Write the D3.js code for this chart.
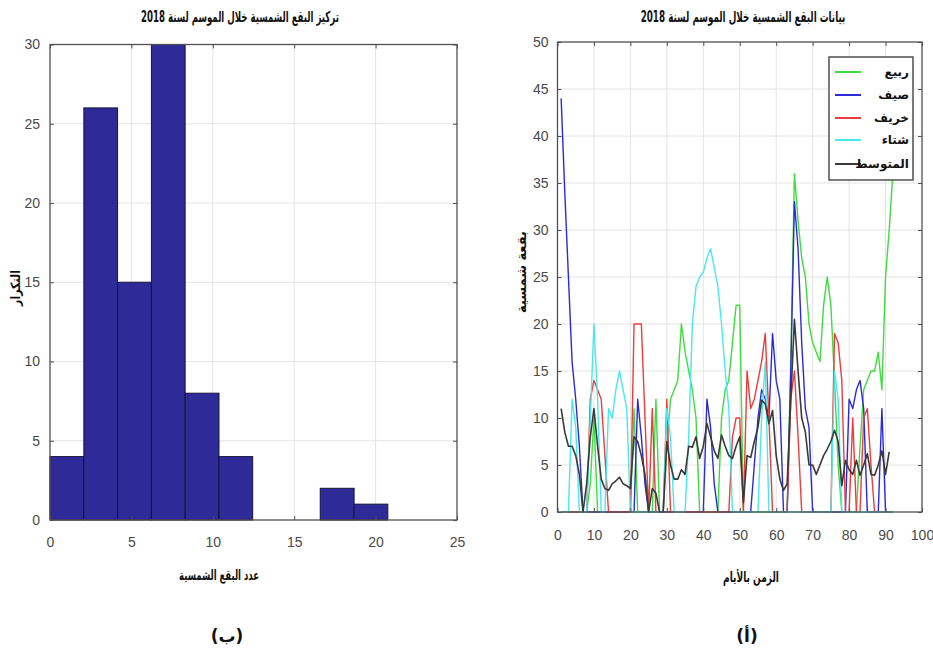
<!DOCTYPE html>
<html>
<head>
<meta charset="utf-8">
<script src="https://cdn.jsdelivr.net/npm/d3@7"></script>
<style>
  body { margin: 0; background: #fff; }
  .tick text { font-family: "Liberation Sans Narrow", "Liberation Sans", Arial, sans-serif; }
  .ar { font-family: "DejaVu Sans", sans-serif; font-weight: bold; fill: #111; }
</style>
</head>
<body>
<svg id="chart" width="933" height="654"></svg>
<script>
// histogram (b): bin edges and counts
const histEdges = [0, 2.08, 4.15, 6.23, 8.3, 10.38, 12.45, 14.53, 16.6, 18.68, 20.75];
const histCounts = [4, 26, 15, 30, 8, 4, 0, 0, 2, 1];
const histXTicks = [0, 5, 10, 15, 20, 25];
const histYTicks = [0, 5, 10, 15, 20, 25, 30];

// line chart (a): daily sunspot counts, day 1 onwards
const springSpots = [0, 0, 0, 0, 0, 0, 0, 0, 3, 10, 0, 0, 0, 0, 0, 0, 0, 0, 0, 0,
  11, 0, 0, 0, 0, 0, 12, 0, 0, 7, 12, 13, 14, 20, 17, 15, 13, 10, 0, 0,
  0, 0, 0, 0, 10, 13, 14, 18, 22, 22, 0, 0, 0, 0, 0, 0, 0, 0, 0, 0,
  0, 0, 0, 16, 36, 31, 27, 25, 20, 18, 17, 16, 22, 25, 22, 14, 5, 0, 0, 0,
  0, 0, 7, 13, 14, 15, 15, 17, 13, 25, 30, 36];
const summerSpots = [44, 34, 25, 16, 12, 7, 0, 0, 0, 0, 0, 0, 0, 0, 0, 0, 0, 0, 0, 0,
  0, 12, 8, 3, 0, 0, 0, 0, 0, 0, 0, 0, 0, 0, 0, 0, 0, 0, 0, 0,
  12, 9, 3, 0, 0, 0, 0, 0, 0, 0, 0, 0, 0, 5, 10, 13, 12, 10, 19, 14,
  12, 0, 0, 15, 33, 28, 18, 11, 9, 0, 0, 0, 0, 0, 0, 0, 0, 0, 0, 12,
  11, 13, 14, 11, 0, 0, 0, 0, 11, 0, 0, 0];
const autumnSpots = [0, 0, 0, 0, 0, 0, 0, 0, 12, 14, 13, 12, 6, 0, 0, 0, 0, 0, 0, 0,
  20, 20, 20, 10, 0, 11, 0, 0, 0, 12, 0, 0, 0, 0, 0, 0, 0, 0, 0, 0,
  0, 0, 0, 0, 0, 0, 0, 8, 10, 10, 0, 15, 11, 12, 14, 16, 19, 10, 0, 0,
  0, 0, 0, 12, 15, 8, 0, 0, 0, 0, 0, 0, 0, 0, 0, 19, 18, 14, 0, 0,
  10, 0, 0, 10, 11, 5, 0, 0, 0, 0, 0, 0];
const winterSpots = [0, 0, 0, 12, 9, 0, 0, 0, 10, 20, 12, 0, 0, 11, 10, 13, 15, 13, 11, 0,
  0, 0, 0, 0, 0, 0, 0, 0, 0, 11, 8, 0, 0, 0, 0, 8, 20, 24, 25, 25.5,
  27, 28, 26, 24, 20, 15, 11, 0, 0, 0, 0, 0, 0, 0, 0, 10, 16, 0, 0, 0,
  0, 0, 0, 0, 0, 0, 0, 0, 0, 0, 0, 0, 0, 0, 0, 15, 12, 0, 0, 0,
  0, 0, 0, 0, 0, 0, 0, 0, 0, 0, 0, 0];
const averageSpots = [11, 8.5, 7, 7, 6, 4, 0, 3, 8, 11, 7, 3.5, 2.5, 2.3, 3, 3.3, 3.7, 3, 2.8, 2.5,
  8, 7.5, 6, 4, 0, 2.5, 2, 0, 0, 7.5, 5, 3.5, 3.5, 4.5, 4, 7, 6.9, 8, 5.7, 7,
  9.4, 8, 6.5, 5.7, 8.2, 7, 6, 5.7, 7, 8, 1, 6, 5.8, 7.5, 9, 11.9, 11.5, 9.4, 10.8, 6,
  3.5, 2.3, 3, 12, 20.5, 15, 10, 8.5, 5, 5, 4, 5, 6, 6.7, 7.5, 8.7, 7.5, 2.8, 5.5, 4.5,
  4, 5.5, 3.9, 5, 6.2, 4, 3.9, 5, 6.5, 4, 6.4];

const seasonNames = ['ربيع', 'صيف', 'خريف', 'شتاء', 'المتوسط'];
const seasonColors = ['#3fdc3f', '#2b2bd6', '#ee3b3b', '#4ae8ee', '#3a3a3a'];
const dayTicks = [0, 10, 20, 30, 40, 50, 60, 70, 80, 90, 100];
const spotTicks = [0, 5, 10, 15, 20, 25, 30, 35, 40, 45, 50];

const svg = d3.select('#chart');
svg.append('rect').attr('width', 933).attr('height', 654).attr('fill', '#fff');

const gridColor = '#e4e4e4';
const frameColor = '#505050';
const labelColor = '#4a4a4a';

function drawGrid(g, x, y, xTicks, yTicks) {
  const [x0, x1] = x.range();
  const [y0, y1] = y.range();

  g.append('g')
    .selectAll('line')
    .data(xTicks.slice(1, -1))
    .join('line')
    .attr('x1', (d) => x(d)).attr('x2', (d) => x(d))
    .attr('y1', y0).attr('y2', y1)
    .attr('stroke', gridColor);

  g.append('g')
    .selectAll('line')
    .data(yTicks.slice(1, -1))
    .join('line')
    .attr('x1', x0).attr('x2', x1)
    .attr('y1', (d) => y(d)).attr('y2', (d) => y(d))
    .attr('stroke', gridColor);
}

function drawAxes(g, x, y, xTicks, yTicks, xPad, yPad) {
  const [x0, x1] = x.range();
  const [y0, y1] = y.range();

  const bottom = g.append('g').attr('transform', `translate(0,${y0})`)
    .call(d3.axisBottom(x).tickValues(xTicks).tickSizeInner(-4).tickSizeOuter(0).tickPadding(xPad));
  const top = g.append('g').attr('transform', `translate(0,${y1})`)
    .call(d3.axisTop(x).tickValues(xTicks).tickSizeInner(-4).tickSizeOuter(0).tickFormat(''));
  const left = g.append('g').attr('transform', `translate(${x0},0)`)
    .call(d3.axisLeft(y).tickValues(yTicks).tickSizeInner(-4).tickSizeOuter(0).tickPadding(yPad));
  const right = g.append('g').attr('transform', `translate(${x1},0)`)
    .call(d3.axisRight(y).tickValues(yTicks).tickSizeInner(-4).tickSizeOuter(0).tickFormat(''));

  [bottom, top, left, right].forEach((a) => {
    a.select('.domain').remove();
    a.selectAll('.tick line').attr('stroke', frameColor);
    a.selectAll('.tick text').attr('fill', labelColor).style('font-size', '14px');
  });

  g.append('rect')
    .attr('x', x0).attr('y', y1)
    .attr('width', x1 - x0).attr('height', y0 - y1)
    .attr('fill', 'none')
    .attr('stroke', frameColor)
    .attr('stroke-width', 1.3);
}

// squeeze the Arabic text horizontally to the width seen in the picture
function arabicText(text, x, y, size, width, rotate) {
  const t = svg.append('text')
    .attr('class', 'ar')
    .attr('text-anchor', 'middle')
    .style('font-size', size + 'px')
    .text(text);
  let squeeze = '';
  if (width) {
    const natural = t.node().getComputedTextLength();
    squeeze = ` scale(${Math.min(1, width / natural)},1)`;
  }
  t.attr('transform', `translate(${x},${y})${rotate ? ' rotate(-90)' : ''}${squeeze}`);
  return t;
}

// ---- histogram (b) ----
const xH = d3.scaleLinear().domain([0, 25]).range([50, 457]);
const yH = d3.scaleLinear().domain([0, 30]).range([520, 44.5]);
const gH = svg.append('g');

drawGrid(gH, xH, yH, histXTicks, histYTicks);

const bins = histCounts.map((count, i) => ({ x0: histEdges[i], x1: histEdges[i + 1], count }));
gH.append('g')
  .selectAll('rect')
  .data(bins.filter((b) => b.count > 0))
  .join('rect')
  .attr('x', (b) => xH(b.x0))
  .attr('width', (b) => xH(b.x1) - xH(b.x0))
  .attr('y', (b) => yH(b.count))
  .attr('height', (b) => yH(0) - yH(b.count))
  .attr('fill', '#2e2a98')
  .attr('stroke', '#14143c')
  .attr('stroke-width', 1);

drawAxes(gH, xH, yH, histXTicks, histYTicks, 17, 10);

// ---- line chart (a) ----
const xL = d3.scaleLinear().domain([0, 100]).range([557.5, 922]);
const yL = d3.scaleLinear().domain([0, 50]).range([512, 42]);
const gL = svg.append('g');

drawGrid(gL, xL, yL, dayTicks, spotTicks);

const seasonSeries = [springSpots, summerSpots, autumnSpots, winterSpots, averageSpots];
const line = d3.line()
  .x((v, i) => xL(i + 1))
  .y((v) => yL(v));

gL.append('g')
  .selectAll('path')
  .data(seasonSeries)
  .join('path')
  .attr('d', line)
  .attr('fill', 'none')
  .attr('stroke', (d, i) => seasonColors[i])
  .attr('stroke-width', (d, i) => (i === 4 ? 1.6 : 1.4))
  .attr('stroke-linejoin', 'round');

drawAxes(gL, xL, yL, dayTicks, spotTicks, 18, 9);

// legend
const legend = gL.append('g');
legend.append('rect')
  .attr('x', 829).attr('y', 57)
  .attr('width', 84).attr('height', 123)
  .attr('fill', '#fff')
  .attr('stroke', '#444')
  .attr('stroke-width', 1.4);

const legendRows = legend.selectAll('g')
  .data(seasonNames)
  .join('g')
  .attr('transform', (d, i) => `translate(0,${[72, 95, 118, 140, 164][i]})`);

legendRows.append('line')
  .attr('x1', 835).attr('x2', 861)
  .attr('stroke', (d, i) => seasonColors[i])
  .attr('stroke-width', 2);

legendRows.append('text')
  .attr('class', 'ar')
  .attr('x', 909)
  .attr('y', 4)
  .attr('text-anchor', 'end')
  .style('font-size', '12px')
  .text((d) => d);

// ---- titles and labels ----
arabicText('تركيز البقع الشمسية خلال الموسم لسنة 2018', 240, 22, 15, 198);
arabicText('بيانات البقع الشمسية خلال الموسم لسنة 2018', 743, 22, 15, 205);
arabicText('عدد البقع الشمسية', 219, 580, 14, 80);
arabicText('الزمن بالأيام', 751, 582, 14, 56);
arabicText('التكرار', 20, 288, 13, 36, true);
arabicText('بقعة شمسية', 526, 272, 13, 82, true);
arabicText('(ب)', 227, 642, 17);
arabicText('(أ)', 747, 642, 17);
</script>
</body>
</html>
